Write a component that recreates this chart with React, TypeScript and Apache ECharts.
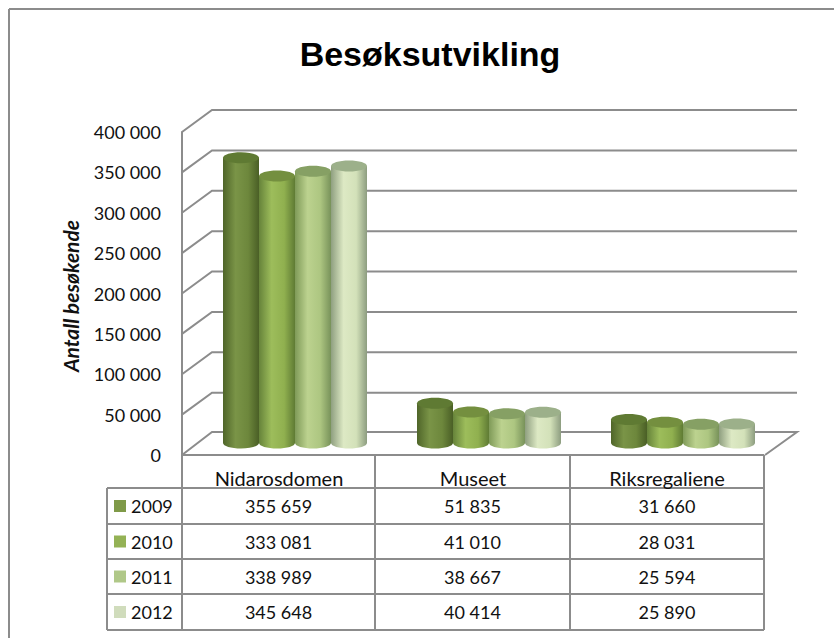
import React, { useEffect, useRef } from "react";
import * as echarts from "echarts";

const titleText = "Besøksutvikling";
const axisName = "Antall besøkende";
const categories = ["Nidarosdomen", "Museet", "Riksregaliene"];
const years = ["2009", "2010", "2011", "2012"];
const v2009 = [355659, 51835, 31660];
const v2010 = [333081, 41010, 28031];
const v2011 = [338989, 38667, 25594];
const v2012 = [345648, 40414, 25890];
const seriesValues = [v2009, v2010, v2011, v2012];
const valueTicks = [0, 50000, 100000, 150000, 200000, 250000, 300000, 350000, 400000];

const bodyColors = [
  ["#4f6529", "#7a9447", "#6d873c", "#4a5f26"],
  ["#66833a", "#9dbd5b", "#90b04f", "#5f7b34"],
  ["#7f9a58", "#bcd28f", "#adc681", "#78925a"],
  ["#8f9f80", "#dde9c4", "#d3e1b9", "#8d9d80"],
];
const topColors = ["#5f7a33", "#748f3f", "#86a064", "#9cb08a"];
const keyColors = ["#7f9a48", "#94b255", "#b0c888", "#d0dcbc"];

const fmt = (n: number) => String(n).replace(/\B(?=(\d{3})+$)/g, " ");

const FONT = "Lato, sans-serif";
const LINE = "#8c8c8c";
const tableLeft = 107;
const colXs = [182, 375, 570, 764];
const rowYs = [488, 524, 559, 594, 630];

function line(x1: number, y1: number, x2: number, y2: number, w = 2) {
  return { type: "line", silent: true, shape: { x1, y1, x2, y2 }, style: { stroke: LINE, lineWidth: w } };
}

function buildTable() {
  const out: any[] = [];
  colXs.forEach((x) => out.push(line(x, 455, x, rowYs[4])));
  out.push(line(tableLeft, rowYs[0], tableLeft, rowYs[4]));
  out.push(line(colXs[0], 455, colXs[3], 455));
  rowYs.forEach((y) => out.push(line(tableLeft, y, colXs[3], y)));
  years.forEach((yr, i) => {
    const cy = (rowYs[i] + rowYs[i + 1]) / 2;
    out.push({ type: "rect", shape: { x: 114, y: cy - 6, width: 12, height: 12 }, style: { fill: keyColors[i] } });
    out.push({
      type: "text", x: 131, y: cy,
      style: { text: yr, font: `18px ${FONT}`, fill: "#111", textAlign: "left", textVerticalAlign: "middle" },
    });
    categories.forEach((_, c) => {
      out.push({
        type: "text", x: (colXs[c] + colXs[c + 1]) / 2, y: cy,
        style: { text: fmt(seriesValues[i][c]), font: `18px ${FONT}`, fill: "#111", textAlign: "center", textVerticalAlign: "middle" },
      });
    });
  });
  return out;
}

const BAR_W = 36;
const renderCylinder = (si: number) => (params: any, api: any) => {
  const cat = api.value(0);
  const val = api.value(1);
  const cx = api.coord([cat, 0])[0] + 16 + (si - 1.5) * BAR_W;
  const top = api.coord([cat, val])[1] - 10;
  const base = api.coord([cat, 0])[1] - 12;
  const rx = BAR_W / 2;
  const ry = 5.5;
  const c = bodyColors[si];
  const fill = new echarts.graphic.LinearGradient(0, 0, 1, 0, [
    { offset: 0, color: c[0] },
    { offset: 0.35, color: c[1] },
    { offset: 0.7, color: c[2] },
    { offset: 1, color: c[3] },
  ]);
  return {
    type: "group",
    children: [
      { type: "ellipse", shape: { cx, cy: base, rx, ry }, style: { fill } },
      { type: "rect", shape: { x: cx - rx, y: top, width: BAR_W, height: base - top }, style: { fill } },
      { type: "ellipse", shape: { cx, cy: top, rx, ry }, style: { fill: topColors[si] } },
    ],
  };
};

const renderWall = (params: any, api: any) => {
  const y = api.coord([0, api.value(0)])[1];
  const x0 = 182;
  return {
    type: "polyline",
    shape: { points: api.value(0) === 0
      ? [[x0, y], [x0 + 30, y - 23], [797, y - 23], [765, y]]
      : [[x0, y], [x0 + 30, y - 22], [797, y - 22]] },
    style: { fill: "none", stroke: LINE, lineWidth: 2 },
  };
};

export default function App() {
  const ref = useRef<HTMLDivElement>(null);
  useEffect(() => {
    const chart = echarts.init(ref.current!, undefined, { renderer: "svg" });
    chart.setOption({
      animation: false,
      backgroundColor: "#fff",
      title: {
        text: titleText, left: 425, top: 32, textAlign: "center",
        textStyle: { fontFamily: "Liberation Sans", fontWeight: "bold", fontSize: 34, color: "#000" },
      },
      grid: { left: 182, right: 70, top: 132, bottom: 183 },
      xAxis: {
        type: "category", data: categories,
        axisLine: { show: false }, axisTick: { show: false },
        axisLabel: { fontFamily: "Lato", fontSize: 20, color: "#111", margin: 13 },
      },
      yAxis: {
        type: "value", min: 0, max: 400000, interval: 50000,
        splitLine: { show: false },
        axisLine: { show: true, lineStyle: { color: LINE, width: 2 } },
        axisTick: { show: false },
        axisLabel: { fontFamily: "Lato", fontSize: 18, color: "#111", margin: 21, formatter: (v: number) => fmt(v) },
      },
      series: [
        {
          type: "custom", silent: true, coordinateSystem: "cartesian2d", renderItem: renderWall,
          data: valueTicks.map((t) => [t]), encode: { y: 0 }, clip: false, z: 1,
        },
        ...years.map((yr, si) => ({
          type: "custom", name: yr, silent: true, coordinateSystem: "cartesian2d",
          renderItem: renderCylinder(si), clip: false, z: 2 + si,
          data: seriesValues[si].map((v, c) => [c, v]), encode: { x: 0, y: 1 },
        })),
      ],
      graphic: [
        line(9, 9, 834, 9),
        line(9, 9, 9, 638),
        {
          type: "text", x: 70, y: 296, rotation: Math.PI / 2,
          style: { text: axisName, font: `italic bold 21px ${FONT}`, fill: "#111", textAlign: "center", textVerticalAlign: "middle" },
        },
        ...buildTable(),
      ],
    });
    return () => chart.dispose();
  }, []);
  return <div ref={ref} style={{ position: "absolute", left: 0, top: 0, width: 834, height: 638 }} />;
}
